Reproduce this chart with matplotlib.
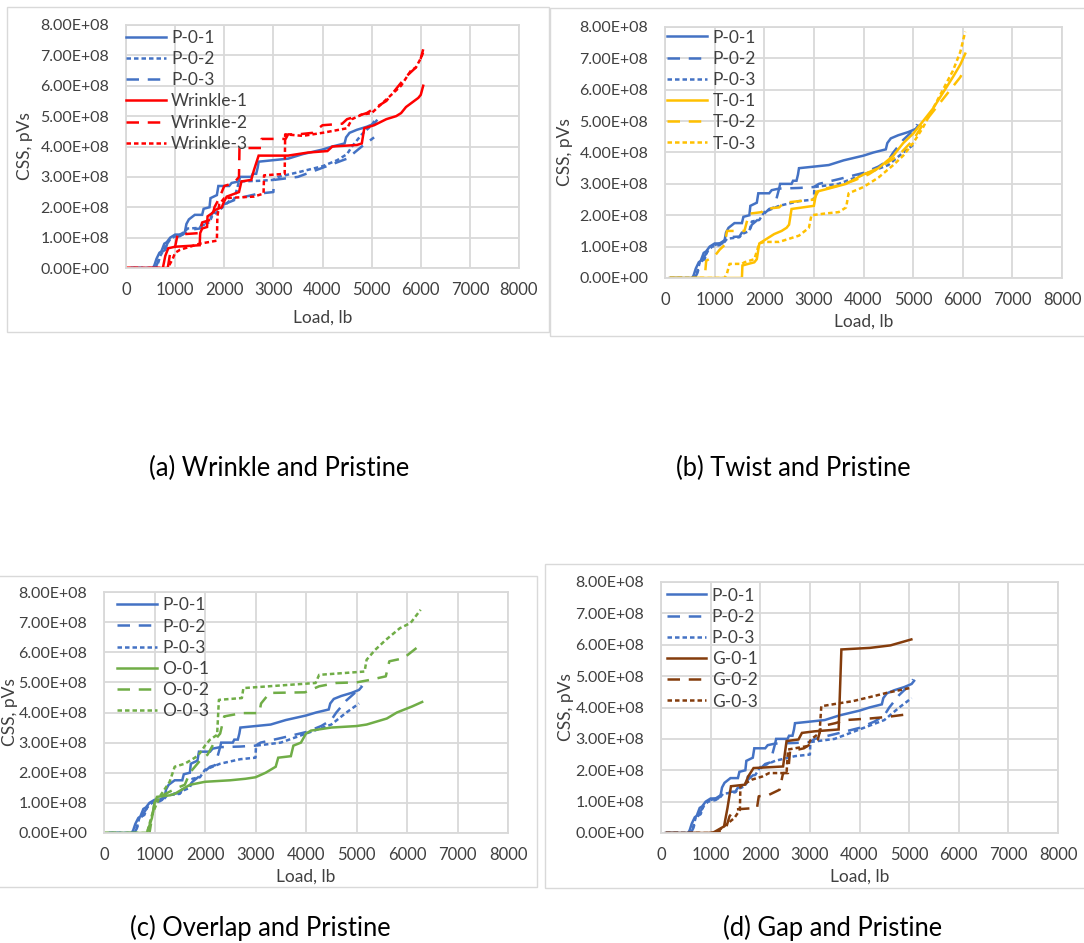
import matplotlib.pyplot as plt
from matplotlib.patches import Rectangle
from matplotlib.ticker import FuncFormatter

plt.rcParams['font.family'] = ['Lato', 'DejaVu Sans']

# CSS values are in units of 1e8 pVs, loads in lb
P01 = [(100, 0), (550, 0), (580, 0.1), (620, 0.3), (680, 0.5), (720, 0.55), (780, 0.8), (830, 0.85),
       (900, 1.0), (950, 1.05), (1000, 1.1), (1150, 1.1), (1200, 1.2), (1230, 1.45), (1280, 1.6),
       (1400, 1.75), (1550, 1.75), (1580, 1.95), (1700, 2.0), (1720, 2.3), (1850, 2.4), (1880, 2.7),
       (2100, 2.7), (2150, 2.8), (2300, 2.85), (2320, 3.0), (2550, 3.0), (2580, 3.1), (2650, 3.1),
       (2680, 3.3), (2700, 3.5), (3000, 3.55), (3300, 3.6), (3600, 3.75), (4000, 3.9), (4100, 3.95),
       (4200, 4.0), (4450, 4.1), (4480, 4.3), (4550, 4.45), (4700, 4.55), (4900, 4.65), (5050, 4.75),
       (5100, 4.85)]
P02 = [(100, 0), (600, 0), (650, 0.15), (700, 0.4), (800, 0.7), (900, 0.95), (1000, 1.05), (1100, 1.1),
       (1200, 1.2), (1250, 1.3), (1500, 1.32), (1550, 1.45), (1700, 1.5), (1750, 1.7), (1900, 1.9),
       (2000, 2.05), (2100, 2.2), (2200, 2.25), (2250, 2.55), (2300, 2.85), (2700, 2.87), (3000, 2.9),
       (3100, 3.0), (3500, 3.15), (4000, 3.35), (4300, 3.55), (4500, 3.75), (4600, 4.0), (4800, 4.4),
       (5000, 4.7), (5080, 4.9)]
P03 = [(100, 0), (600, 0), (650, 0.2), (700, 0.5), (800, 0.6), (850, 0.85), (950, 1.0), (1100, 1.05),
       (1200, 1.15), (1250, 1.25), (1500, 1.3), (1550, 1.4), (1700, 1.5), (1750, 1.8), (1900, 1.85),
       (2000, 2.1), (2150, 2.2), (2300, 2.3), (2700, 2.45), (3000, 2.5), (3010, 2.9), (3500, 3.0),
       (4000, 3.3), (4500, 3.6), (4800, 4.0), (5050, 4.3)]

W1 = [(0, 0), (750, 0), (800, 0.4), (860, 0.65), (1000, 0.7), (1500, 0.75), (1510, 1.15), (1550, 1.3),
      (1650, 1.35), (1660, 1.7), (1750, 1.8), (1800, 1.9), (1950, 2.0), (2000, 2.2), (2050, 2.35),
      (2300, 2.5), (2350, 2.85), (2550, 2.9), (2600, 3.2), (2650, 3.45), (2700, 3.7), (3300, 3.7),
      (3700, 3.8), (4100, 3.85), (4200, 4.0), (4700, 4.05), (4800, 4.1), (4850, 4.6), (5050, 4.7),
      (5300, 4.9), (5500, 5.0), (5600, 5.1), (5700, 5.3), (5950, 5.6), (6000, 5.7), (6050, 6.0)]
W2 = [(0, 0), (850, 0), (900, 0.5), (1000, 0.7), (1050, 1.1), (1500, 1.15), (1550, 1.5), (1750, 1.6),
      (1800, 2.0), (1900, 2.3), (2000, 2.7), (2200, 2.8), (2300, 3.0), (2310, 3.95), (2750, 3.95),
      (2760, 4.25), (3250, 4.25), (3300, 4.4), (3500, 4.4), (3800, 4.45), (4000, 4.7), (4400, 4.75),
      (4500, 4.9), (4700, 5.0), (4900, 5.1), (5100, 5.3), (5300, 5.5), (5500, 5.9), (5700, 6.3),
      (5900, 6.6), (6000, 6.9), (6050, 7.2)]
W3 = [(0, 0), (850, 0), (950, 0.3), (1000, 0.5), (1100, 0.6), (1500, 0.8), (1850, 0.9), (1860, 1.7),
      (1900, 2.1), (2000, 2.3), (2600, 2.35), (2800, 2.45), (2810, 3.05), (3230, 3.1), (3240, 4.4),
      (3600, 4.35), (4000, 4.45), (4500, 4.6), (4600, 4.9), (4800, 5.05), (5000, 5.1), (5200, 5.4),
      (5400, 5.7), (5600, 6.0), (5800, 6.5), (5900, 6.6), (6000, 6.9), (6050, 7.1)]

T1 = [(100, 0), (1550, 0), (1560, 0.4), (1800, 0.5), (1850, 0.6), (1900, 1.1), (2000, 1.2), (2200, 1.4),
      (2350, 1.5), (2450, 1.6), (2500, 1.7), (2550, 2.2), (3000, 2.3), (3050, 2.75), (3300, 2.85),
      (3650, 3.0), (4000, 3.3), (4300, 3.5), (4600, 3.9), (4800, 4.3), (5000, 4.6), (5200, 5.0),
      (5400, 5.4), (5600, 5.9), (5800, 6.4), (5950, 6.8), (6050, 7.15)]
T2 = [(100, 0), (800, 0), (830, 0.55), (1000, 0.7), (1100, 0.9), (1200, 1.05), (1250, 1.5), (1600, 1.5),
      (1650, 1.8), (1700, 2.05), (1950, 2.1), (2000, 2.2), (2300, 2.25), (2400, 2.4), (2700, 2.45),
      (3000, 2.5), (3100, 2.8), (3500, 2.95), (3800, 3.1), (4100, 3.3), (4400, 3.6), (4700, 3.9),
      (5000, 4.4), (5200, 4.9), (5400, 5.3), (5600, 5.7), (5800, 6.1), (5950, 6.4), (6050, 6.7)]
T3 = [(100, 0), (1200, 0), (1250, 0.15), (1300, 0.45), (1550, 0.45), (1600, 0.5), (1800, 0.6),
      (1900, 1.1), (2000, 1.15), (2300, 1.15), (2500, 1.25), (2700, 1.35), (2900, 1.6), (2950, 2.0),
      (3200, 2.05), (3500, 2.1), (3650, 2.25), (3700, 2.7), (4000, 2.9), (4300, 3.2), (4600, 3.6),
      (4800, 3.9), (5000, 4.3), (5200, 4.8), (5400, 5.4), (5600, 6.0), (5800, 6.6), (5950, 7.2),
      (6050, 7.85)]

O1 = [(0, 0), (850, 0), (950, 0.5), (1000, 1.0), (1050, 1.2), (1300, 1.25), (1400, 1.3), (1500, 1.4),
      (1600, 1.5), (1700, 1.6), (2000, 1.7), (2500, 1.75), (2800, 1.8), (3000, 1.85), (3200, 2.0),
      (3400, 2.2), (3450, 2.5), (3700, 2.55), (3750, 2.9), (3900, 3.0), (4000, 3.3), (4100, 3.4),
      (4500, 3.5), (5000, 3.55), (5200, 3.6), (5500, 3.75), (5600, 3.8), (5800, 4.0), (6100, 4.2),
      (6300, 4.35)]
O2 = [(0, 0), (900, 0), (1000, 1.0), (1100, 1.2), (1450, 1.5), (1600, 1.6), (1700, 2.0), (1900, 2.4),
      (2050, 2.6), (2150, 2.9), (2250, 3.2), (2300, 3.3), (2380, 3.87), (2730, 3.98), (3075, 3.98),
      (3110, 4.3), (3280, 4.65), (3980, 4.67), (4260, 4.87), (4600, 4.98), (5000, 5.0), (5230, 5.07),
      (5580, 5.2), (5650, 5.7), (5930, 5.8), (6270, 6.25)]
O3 = [(0, 0), (850, 0), (950, 0.6), (1100, 1.2), (1300, 1.7), (1400, 2.2), (1600, 2.3), (1800, 2.5),
      (1900, 2.65), (2000, 2.9), (2100, 3.1), (2240, 3.26), (2275, 4.42), (2730, 4.48), (2760, 4.81),
      (4190, 4.98), (4260, 5.25), (5160, 5.36), (5200, 5.75), (5370, 6.08), (5580, 6.41), (5860, 6.8),
      (6070, 6.97), (6270, 7.41)]

G1 = [(100, 0), (1000, 0), (1060, 0.02), (1270, 0.21), (1340, 0.8), (1410, 1.49), (1690, 1.54),
      (1760, 1.81), (1865, 2.07), (2460, 2.12), (2530, 2.93), (2770, 2.98), (2840, 3.19), (3090, 3.24),
      (3580, 3.3), (3635, 5.85), (4210, 5.9), (4625, 5.98), (5045, 6.17)]
G2 = [(100, 0), (1050, 0), (1300, 0.1), (1380, 0.53), (1480, 0.75), (1935, 0.8), (1970, 1.17),
      (2180, 1.22), (2390, 1.38), (2460, 1.91), (2560, 1.91), (2600, 2.6), (2880, 2.7), (3160, 2.98),
      (3230, 3.4), (3510, 3.5), (3720, 3.6), (4210, 3.65), (4560, 3.7), (5045, 3.8)]
G3 = [(100, 0), (1100, 0), (1340, 0.3), (1480, 0.48), (1590, 0.74), (1600, 1.49), (1830, 1.7),
      (2040, 1.8), (2180, 1.91), (2530, 1.91), (2560, 2.66), (2950, 2.77), (3020, 2.98), (3195, 3.19),
      (3230, 4.04), (3650, 4.15), (3860, 4.2), (4280, 4.36), (4560, 4.47), (5045, 4.63)]

BLUE, RED, GOLD, GREEN, BROWN = '#4472C4', '#FF0000', '#FFC000', '#70AD47', '#843C0C'
GRID = '#D9D9D9'
TXT = '#404040'
SOLID, LONG, SHORT = None, (5.0, 3.5), (1.8, 1.2)

W, H = 1084, 943
fig = plt.figure(figsize=(W / 100, H / 100), dpi=100)


def px_axes(x0, y0, x1, y1):
    return fig.add_axes([x0 / W, 1 - y1 / H, (x1 - x0) / W, (y1 - y0) / H])


def frame(x0, y0, x1, y1):
    fig.add_artist(Rectangle((x0 / W, 1 - y1 / H), (x1 - x0) / W, (y1 - y0) / H,
                             transform=fig.transFigure, fill=False, ec=GRID, lw=1.0))


panels = [
    # plot area px, frame px, series, caption, caption pos, ylabel x, xlabel y, legend anchor
    ((126, 25, 519, 268), (7, 7, 549, 332),
     [(P01, 'P-0-1', BLUE, SOLID), (P02, 'P-0-2', BLUE, SHORT), (P03, 'P-0-3', BLUE, LONG),
      (W1, 'Wrinkle-1', RED, SOLID), (W2, 'Wrinkle-2', RED, LONG), (W3, 'Wrinkle-3', RED, SHORT)],
     '(a) Wrinkle and Pristine', (279, 468), -0.257, -0.206, (0.0, 0.98)),
    ((665, 27, 1062, 278), (550, 8, 1090, 336),
     [(P01, 'P-0-1', BLUE, SOLID), (P02, 'P-0-2', BLUE, LONG), (P03, 'P-0-3', BLUE, SHORT),
      (T1, 'T-0-1', GOLD, SOLID), (T2, 'T-0-2', GOLD, LONG), (T3, 'T-0-3', GOLD, SHORT)],
     '(b) Twist and Pristine', (793, 468), -0.252, -0.175, (0.006, 0.99)),
    ((104, 592, 508, 833), (-2, 576, 537, 887),
     [(P01, 'P-0-1', BLUE, SOLID), (P02, 'P-0-2', BLUE, LONG), (P03, 'P-0-3', BLUE, SHORT),
      (O1, 'O-0-1', GREEN, SOLID), (O2, 'O-0-2', GREEN, LONG), (O3, 'O-0-3', GREEN, SHORT)],
     '(c) Overlap and Pristine', (260, 928), -0.233, -0.183, (0.032, 0.978)),
    ((661, 582, 1058, 833), (545, 564, 1090, 888),
     [(P01, 'P-0-1', BLUE, SOLID), (P02, 'P-0-2', BLUE, LONG), (P03, 'P-0-3', BLUE, SHORT),
      (G1, 'G-0-1', BROWN, SOLID), (G2, 'G-0-2', BROWN, LONG), (G3, 'G-0-3', BROWN, SHORT)],
     '(d) Gap and Pristine', (833, 928), -0.239, -0.175, (0.014, 0.978)),
]

sci = FuncFormatter(lambda v, pos: f'{v:.2E}')

for box, fr, series, caption, cap_xy, ylab_x, xlab_y, anchor in panels:
    frame(*fr)
    ax = px_axes(*box)
    for data, label, color, dash in series:
        xs = [p[0] for p in data]
        ys = [p[1] * 1e8 for p in data]
        line, = ax.plot(xs, ys, color=color, lw=1.8, label=label, solid_joinstyle='miter')
        if dash is not None:
            line.set_dashes(dash)
    ax.set_xlim(0, 8000)
    ax.set_ylim(0, 8e8)
    ax.set_xticks(range(0, 8001, 1000))
    ax.set_yticks([i * 1e8 for i in range(9)])
    ax.yaxis.set_major_formatter(sci)
    ax.grid(True, color=GRID, lw=1.3)
    ax.set_axisbelow(True)
    for s in ax.spines.values():
        s.set_color(GRID)
        s.set_linewidth(1.3)
    ax.tick_params(length=0, labelsize=12, colors=TXT, pad=10)
    ax.tick_params(axis='y', labelsize=11.5, pad=12)
    ax.set_xlabel('Load, lb', fontsize=12.5, color=TXT, va='center')
    ax.xaxis.set_label_coords(0.5, xlab_y)
    ax.set_ylabel('CSS, pVs', fontsize=12.5, color=TXT, va='center')
    ax.yaxis.set_label_coords(ylab_x, 0.5)
    ax.legend(loc='upper left', bbox_to_anchor=anchor, frameon=False, fontsize=12.5,
              borderpad=0, borderaxespad=0, handlelength=2.3, handletextpad=0.3,
              labelspacing=0.3, labelcolor=TXT)
    fig.text(cap_xy[0] / W, 1 - cap_xy[1] / H, caption, fontsize=18.4,
             ha='center', va='center', color='black')

fig.savefig('out.png', dpi=100, facecolor='white')
